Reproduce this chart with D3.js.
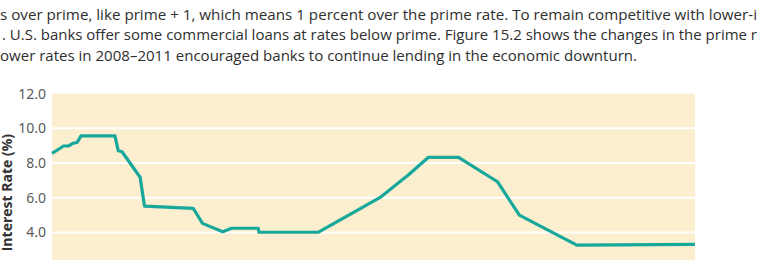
<!DOCTYPE html>
<html>
<head>
<meta charset="utf-8">
<script src="https://cdn.jsdelivr.net/npm/d3@7"></script>
<style>
	body { margin:0; background:#fff; }
	svg { display:block; overflow:hidden; }
	.para { font-family:"Open Sans", sans-serif; font-size:14px; fill:#2e2e2e; }
	.tick text { font-family:"Noto Sans", sans-serif; font-size:14px; fill:#5a5a5a; }
</style>
</head>
<body>
<div id="chart"></div>
<script>
//Paragraph lines above the figure (cropped at the page edges)
var paraLines = [
	's over prime, like prime + 1, which means 1 percent over the prime rate. To remain competitive with lower-i',
	'. U.S. banks offer some commercial loans at rates below prime. Figure 15.2 shows the changes in the prime r',
	'ower rates in 2008\u20132011 encouraged banks to continue lending in the economic downturn.'
];

//Prime rate series (year, percent)
var years = [1999.50, 1999.65, 1999.71, 1999.80, 1999.89, 1999.96, 2000.03, 2000.65, 2000.71, 2000.78,
			2001.11, 2001.19, 2002.08, 2002.25, 2002.62, 2002.78, 2003.27, 2003.28, 2004.37, 2005.49,
			2006.01, 2006.38, 2006.93, 2007.64, 2008.04, 2009.09, 2011.25];
var rates = [8.56, 8.85, 8.98, 8.98, 9.14, 9.19, 9.56, 9.56, 8.71, 8.65,
			7.18, 5.52, 5.39, 4.52, 4.04, 4.24, 4.24, 4.01, 4.01, 6.00,
			7.31, 8.33, 8.33, 6.92, 5.00, 3.27, 3.31];

var yTicks = [4, 6, 8, 10, 12];
var yTitle = 'Interest Rate (%)';

var w = 759, h = 260;
var plot = {left:52, right:695, top:93.6, bottom:301.8};

var svg = d3.select('div#chart').append('svg')
			.attr('width',w)
			.attr('height',h);

//text block
svg.selectAll('text.para').data(paraLines)
	.enter()
	.append('text')
	.attr('class','para')
	.attr('x',function(d,i){ return i === 1 ? 2 : 0; })
	.attr('y',function(d,i){ return 19.5 + i*20.6; })
	.attr('textLength',function(d,i){ return [757, 755, 637][i]; })
	.attr('lengthAdjust','spacingAndGlyphs')
	.text(function(d){ return d; });

//scales
var x = d3.scaleLinear().domain([1999.5, 2011.25]).range([plot.left, plot.right]);
var y = d3.scaleLinear().domain([0, 12]).range([plot.bottom, plot.top]);

//plot background
svg.append('rect')
	.attr('x',plot.left)
	.attr('y',plot.top)
	.attr('width',plot.right-plot.left)
	.attr('height',plot.bottom-plot.top)
	.attr('fill','#fcefcf');

//white gridlines (not on the top edge)
svg.append('g').selectAll('line')
	.data([2, 4, 6, 8, 10])
	.enter()
	.append('line')
	.attr('x1',plot.left)
	.attr('x2',plot.right)
	.attr('y1',function(d){ return y(d); })
	.attr('y2',function(d){ return y(d); })
	.attr('stroke','#fff')
	.attr('stroke-width',2);

//y axis labels
var yAxis = svg.append('g')
			.attr('transform','translate('+plot.left+',0)')
			.call(d3.axisLeft(y).tickValues(yTicks).tickFormat(d3.format('.1f')).tickSize(0).tickPadding(6));
yAxis.select('.domain').remove();

//axis title
svg.append('text')
	.attr('transform','translate(12,134) rotate(-90)')
	.attr('text-anchor','end')
	.style('font-family','"Open Sans", sans-serif')
	.style('font-weight','bold')
	.style('font-size','14px')
	.style('fill','#333')
	.text(yTitle);

//prime rate line
var line = d3.line()
			.x(function(d,i){ return x(years[i]); })
			.y(function(d){ return y(d); });

svg.append('path')
	.datum(rates)
	.attr('d',line)
	.attr('fill','none')
	.attr('stroke','#17a89b')
	.attr('stroke-width',3.2)
	.attr('stroke-linejoin','round');
</script>
</body>
</html>
